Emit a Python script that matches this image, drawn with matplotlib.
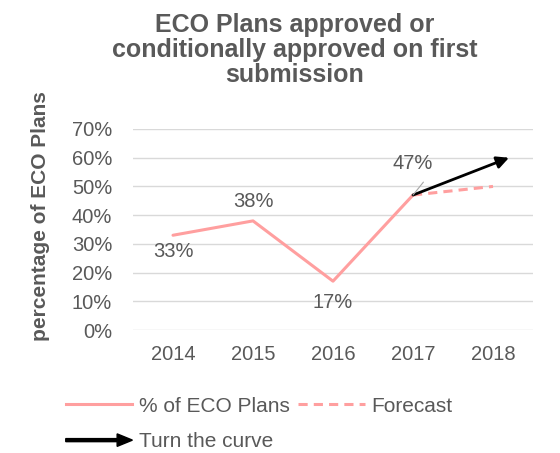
import matplotlib
matplotlib.use("Agg")
import matplotlib.pyplot as plt
import matplotlib.patches as mpatches
from matplotlib.legend_handler import HandlerPatch
from matplotlib.lines import Line2D

plt.rcParams['font.family'] = ['Liberation Sans', 'DejaVu Sans']

years = ["2014", "2015", "2016", "2017", "2018"]
pct_plans = [0.33, 0.38, 0.17, 0.47]
forecast = [0.47, 0.50]
turn_curve = [0.47, 0.60]
y_ticks = [0.0, 0.1, 0.2, 0.3, 0.4, 0.5, 0.6, 0.7]

GREY = "#595959"
PINK = "#FF9F9F"
FS = 14.5

fig = plt.figure(figsize=(5.6, 4.53), dpi=100)
ax = fig.add_axes([133/560, 1-330/453, 400/560, 201/453])

x = list(range(len(years)))
ax.plot(x[:4], pct_plans, color=PINK, lw=2.2, solid_capstyle='round')
ax.plot(x[3:], forecast, color=PINK, lw=2.2, ls=(0, (3, 2)))
ax.annotate("", xy=(x[4] + 0.2, turn_curve[1]), xytext=(x[3], turn_curve[0]),
            arrowprops=dict(arrowstyle="-|>", color="black", lw=2, mutation_scale=18,
                            shrinkA=0, shrinkB=0))

# value labels
offsets = [(0, -12), (0, 14), (0, -15), (0, 23)]
for xi, v, (dx, dy) in zip(x, pct_plans, offsets):
    ax.annotate(f"{round(v*100)}%", xy=(xi, v), xytext=(dx, dy), textcoords="offset points",
                ha="center", va="center", fontsize=FS, color=GREY)
# leader line for the 2017 label
ax.annotate("", xy=(x[3], pct_plans[3]), xytext=(x[3] + 0.13, pct_plans[3] + 0.045),
            arrowprops=dict(arrowstyle="-", color="#A6A6A6", lw=0.8, shrinkA=0, shrinkB=0))

ax.set_xlim(-0.5, 4.5)
ax.set_ylim(0, 0.7)
ax.set_xticks(x)
ax.set_xticklabels(years)
ax.set_yticks(y_ticks)
ax.set_yticklabels([f"{round(t*100)}%" for t in y_ticks])
ax.tick_params(axis='both', length=0, labelsize=FS, labelcolor=GREY)
ax.tick_params(axis='y', pad=15)
ax.tick_params(axis='x', pad=11)
ax.grid(axis='y', color="#D9D9D9", lw=1)
ax.set_axisbelow(True)
for s in ax.spines.values():
    s.set_visible(False)

fig.text(295/560, 1-50/453, "ECO Plans approved or\nconditionally approved on first\nsubmission",
         ha="center", va="center", fontsize=18, fontweight="bold", color=GREY, linespacing=1.07)
fig.text(41/560, 1-216/453, "percentage of ECO Plans", rotation=90, ha="center", va="center",
         fontsize=15, fontweight="bold", color=GREY)


class ArrowHandler(HandlerPatch):
    def create_artists(self, legend, orig_handle, xdescent, ydescent, width, height, fontsize, trans):
        arr = mpatches.FancyArrow(-xdescent, height / 2 - ydescent, width, 0,
                                  width=2.2, head_width=9, head_length=11,
                                  length_includes_head=True, color="black")
        arr.set_transform(trans)
        return [arr]


h_line = Line2D([], [], color=PINK, lw=2.2)
h_fc = Line2D([], [], color=PINK, lw=2.2, ls=(0, (3, 2)))
h_arrow = mpatches.FancyArrow(0, 0, 1, 0, color="black")
leg = fig.legend([h_line, h_arrow, h_fc], ["% of ECO Plans", "Turn the curve", "Forecast"],
                 ncol=2, loc="upper left", bbox_to_anchor=(47/560, 1-378/453),
                 frameon=False, fontsize=15, handlelength=3.2, handletextpad=0.3,
                 columnspacing=0.4, labelspacing=0.8,
                 handler_map={mpatches.FancyArrow: ArrowHandler()})
for t in leg.get_texts():
    t.set_color(GREY)

fig.savefig("out.png", dpi=100)
